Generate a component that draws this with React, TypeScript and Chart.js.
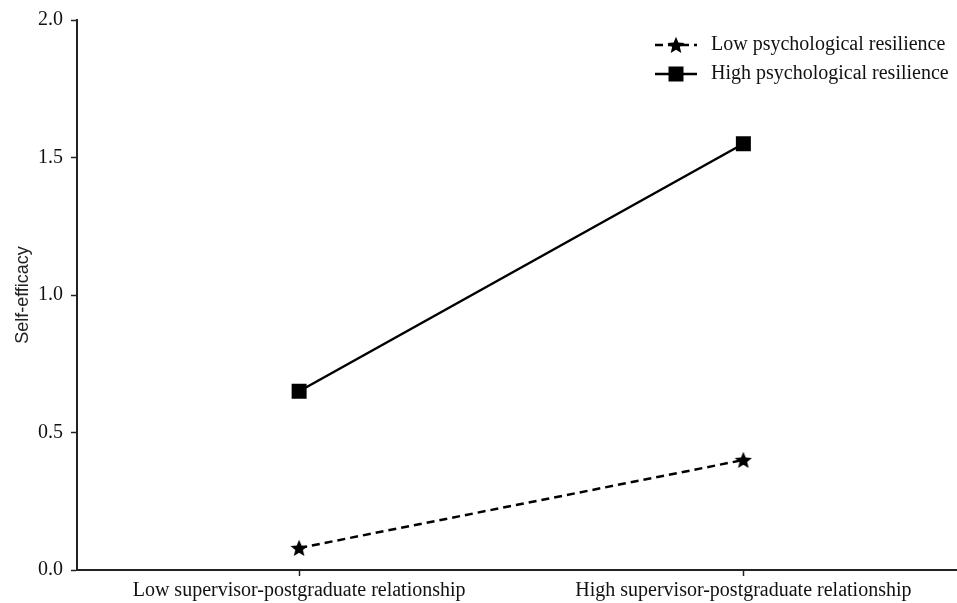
import React, { useEffect, useRef } from "react";
import { Chart, registerables } from "chart.js";

Chart.register(...registerables);

const categories = ["Low supervisor-postgraduate relationship", "High supervisor-postgraduate relationship"];
const lowResilience = [0.08, 0.4];
const highResilience = [0.65, 1.55];
const seriesNames = ["Low psychological resilience", "High psychological resilience"];
const yTicks = [0, 0.5, 1.0, 1.5, 2.0];

function makeStar(size: number): HTMLCanvasElement {
  const c = document.createElement("canvas");
  c.width = size;
  c.height = size;
  const ctx = c.getContext("2d")!;
  const cx = size / 2, cy = size / 2 + 0.8;
  const ro = size / 2, ri = ro * 0.45;
  ctx.beginPath();
  for (let i = 0; i < 10; i++) {
    const r = i % 2 === 0 ? ro : ri;
    const a = -Math.PI / 2 + (i * Math.PI) / 5;
    const x = cx + r * Math.cos(a), y = cy + r * Math.sin(a);
    if (i === 0) ctx.moveTo(x, y); else ctx.lineTo(x, y);
  }
  ctx.closePath();
  ctx.fillStyle = "#000";
  ctx.fill();
  return c;
}

const W = 977;
const H = 603;

export default function App() {
  const ref = useRef<HTMLCanvasElement>(null);
  useEffect(() => {
    const star = makeStar(18);
    const serif = "'Liberation Serif', 'Times New Roman', serif";
    const legendPlugin = {
      id: "customLegend",
      afterDraw(chart: any) {
        const ctx = chart.ctx;
        ctx.save();
        const rows = [
          { y: 45, dash: [8, 5], marker: "star", name: seriesNames[0] },
          { y: 74, dash: [], marker: "rect", name: seriesNames[1] },
        ];
        rows.forEach((r) => {
          ctx.strokeStyle = "#000";
          ctx.lineWidth = 2.5;
          ctx.setLineDash(r.dash);
          ctx.beginPath();
          ctx.moveTo(655, r.y);
          ctx.lineTo(697, r.y);
          ctx.stroke();
          ctx.setLineDash([]);
          if (r.marker === "star") {
            ctx.drawImage(star, 676 - 9, r.y - 9);
          } else {
            ctx.fillStyle = "#000";
            ctx.fillRect(676 - 7.5, r.y - 7.5, 15, 15);
          }
          ctx.fillStyle = "#111";
          ctx.font = `20px ${serif}`;
          ctx.textBaseline = "middle";
          ctx.textAlign = "left";
          ctx.fillText(r.name, 711, r.y);
        });
        ctx.restore();
      },
    };
    const chart = new Chart(ref.current!, {
      type: "line",
      data: {
        labels: categories,
        datasets: [
          {
            label: seriesNames[0],
            data: lowResilience,
            borderColor: "#000",
            backgroundColor: "#000",
            borderWidth: 2.5,
            borderDash: [8, 5],
            pointStyle: star as any,
            pointRadius: 9,
          },
          {
            label: seriesNames[1],
            data: highResilience,
            borderColor: "#000",
            backgroundColor: "#000",
            borderWidth: 2.5,
            pointStyle: "rect",
            pointRadius: 10.6,
            pointBorderWidth: 0,
          },
        ],
      },
      options: {
        animation: false,
        responsive: false,
        maintainAspectRatio: false,
        layout: { padding: { top: 18, right: 0, left: 0, bottom: 0 } },
        plugins: { legend: { display: false }, tooltip: { enabled: false } },
        scales: {
          x: {
            offset: true,
            grid: { drawOnChartArea: false, tickLength: 6, tickColor: "#222", offset: false, tickWidth: 1.5 } as any,
            border: { color: "#222", width: 2 },
            ticks: { color: "#111", font: { family: serif, size: 20 }, padding: 3, maxRotation: 0 },
            afterFit: (s: any) => { s.height = 33; },
          },
          y: {
            min: 0,
            max: 2,
            afterBuildTicks: (s: any) => { s.ticks = yTicks.map((v) => ({ value: v })); },
            grid: { drawOnChartArea: false, tickLength: 6, tickColor: "#222", tickWidth: 1.5 },
            border: { color: "#222", width: 2 },
            ticks: { color: "#111", font: { family: serif, size: 20 }, padding: 8, callback: (v: any) => Number(v).toFixed(1) },
            title: { display: true, text: "Self-efficacy", color: "#222", font: { family: "'Liberation Sans', Arial, sans-serif", size: 18 }, padding: { top: 12, bottom: 0 } },
            afterFit: (s: any) => { s.width = 77; },
          },
        },
      },
      plugins: [legendPlugin],
    });
    return () => chart.destroy();
  }, []);
  return (
    <div style={{ position: "fixed", left: 0, top: 0, width: W, height: H, background: "#fff" }}>
      <canvas ref={ref} width={W} height={H} style={{ width: W, height: H }} />
    </div>
  );
}
